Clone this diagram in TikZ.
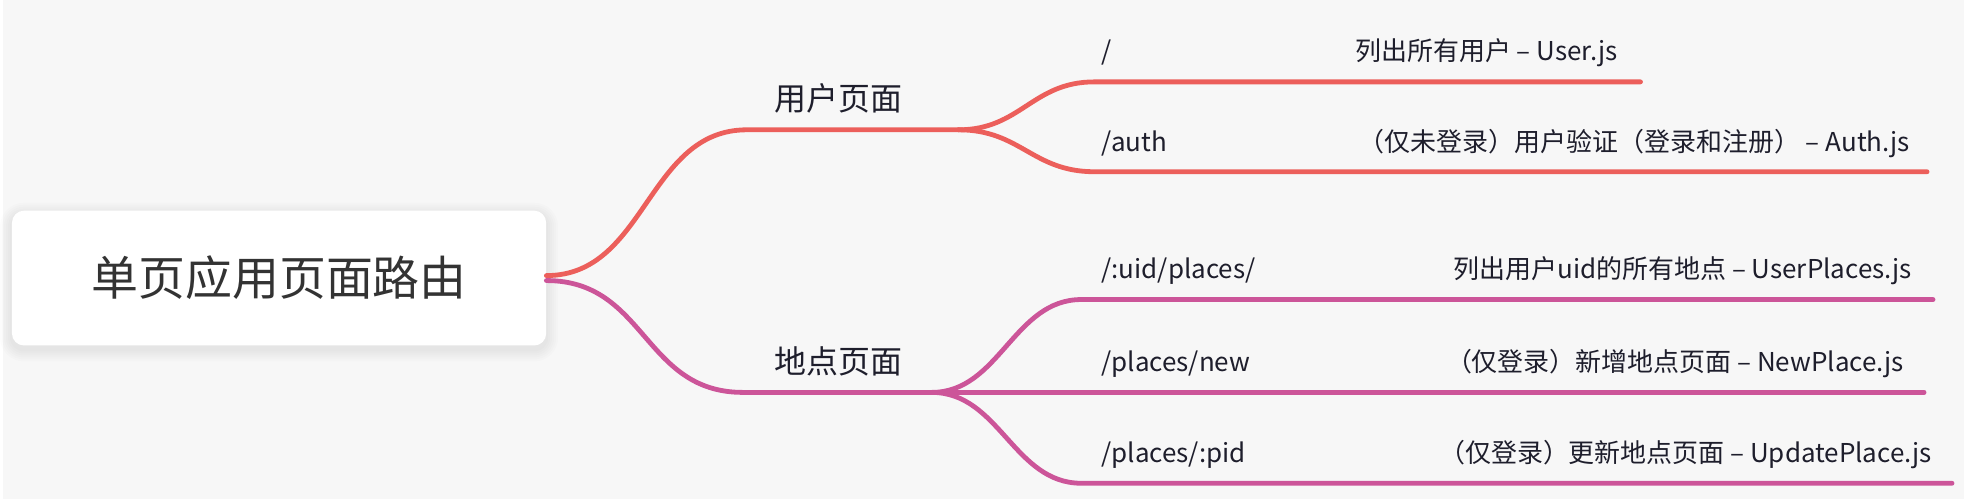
\documentclass[tikz,border=0pt]{standalone}
\usepackage{fontspec}
\newfontfamily\cjk{Noto Sans CJK SC}
\definecolor{bgcol}{HTML}{F7F7F7}
\definecolor{redline}{HTML}{EC5F5B}
\definecolor{purpleline}{HTML}{CC5599}
\definecolor{inkcol}{HTML}{1E1E2C}

\begin{document}
\begin{tikzpicture}[x=1pt, y=-1pt,
    branch/.style={line width=4.8pt, line cap=round},
    catlabel/.style={font=\cjk\fontsize{32}{36}\selectfont, text=inkcol, inner sep=0pt, anchor=base},
    route/.style={font=\cjk\fontsize{26}{30}\selectfont, text=inkcol, inner sep=0pt, anchor=base west},
    desc/.style={font=\cjk\fontsize{26}{30}\selectfont, text=inkcol, inner sep=0pt, anchor=base east}]
    \fill[bgcol] (0,0) rectangle (1964,500);
    \foreach \s in {2,4,...,12}
        \fill[black, opacity=0.012, rounded corners=12+\s] (9-\s,211-\s+4) rectangle (544+\s,346+\s+4);
    \node[fill=white, rounded corners=12pt, minimum width=535pt, minimum height=135pt, inner sep=0pt,
        font=\cjk\fontsize{47}{52}\selectfont, text=black!80] (root) at (276.5,278.5) {单页应用页面路由};

    \coordinate (uStart) at (745,130);
    \coordinate (uFork) at (957,130);
    \coordinate (u1) at (1093,82);
    \coordinate (u1end) at (1640,82);
    \coordinate (u2) at (1093,172);
    \coordinate (u2end) at (1927,172);

    \coordinate (pStart) at (741,393);
    \coordinate (pFork) at (930,393);
    \coordinate (p1) at (1080,300);
    \coordinate (p1end) at (1933,300);
    \coordinate (p2end) at (1924,393);
    \coordinate (p3) at (1080,484);
    \coordinate (p3end) at (1952,484);

    \draw[branch, redline] ([yshift=2.5pt]root.east) .. controls +(100,0) and +(-100,0) .. (uStart) -- (uFork);
    \draw[branch, redline] (uFork) .. controls +(62,0) and +(-62,0) .. (u1) -- (u1end);
    \draw[branch, redline] (uFork) .. controls +(62,0) and +(-62,0) .. (u2) -- (u2end);

    \draw[branch, purpleline] ([yshift=-2.5pt]root.east) .. controls +(100,0) and +(-100,0) .. (pStart) -- (pFork);
    \draw[branch, purpleline] (pFork) .. controls +(68,0) and +(-68,0) .. (p1) -- (p1end);
    \draw[branch, purpleline] (pFork) -- (p2end);
    \draw[branch, purpleline] (pFork) .. controls +(68,0) and +(-68,0) .. (p3) -- (p3end);

    \node[catlabel] (users) at (836.5,111) {用户页面};
    \node[catlabel] (places) at (836.5,374) {地点页面};

    \node[route] (rRoot) at (1100,61) {/};
    \node[desc] (dRoot) at (1617,61) {列出所有用户 – User.js};
    \node[route] (rAuth) at (1100,152) {/auth};
    \node[desc] (dAuth) at (1910,152) {（仅未登录）用户验证（登录和注册） – Auth.js};
    \node[route] (rUid) at (1100,279) {/:uid/places/};
    \node[desc] (dUid) at (1912,279) {列出用户uid的所有地点 – UserPlaces.js};
    \node[route] (rNew) at (1100,372) {/places/new};
    \node[desc] (dNew) at (1904,372) {（仅登录）新增地点页面 – NewPlace.js};
    \node[route] (rPid) at (1100,463) {/places/:pid};
    \node[desc] (dPid) at (1932,463) {（仅登录）更新地点页面 – UpdatePlace.js};
\end{tikzpicture}
\end{document}
